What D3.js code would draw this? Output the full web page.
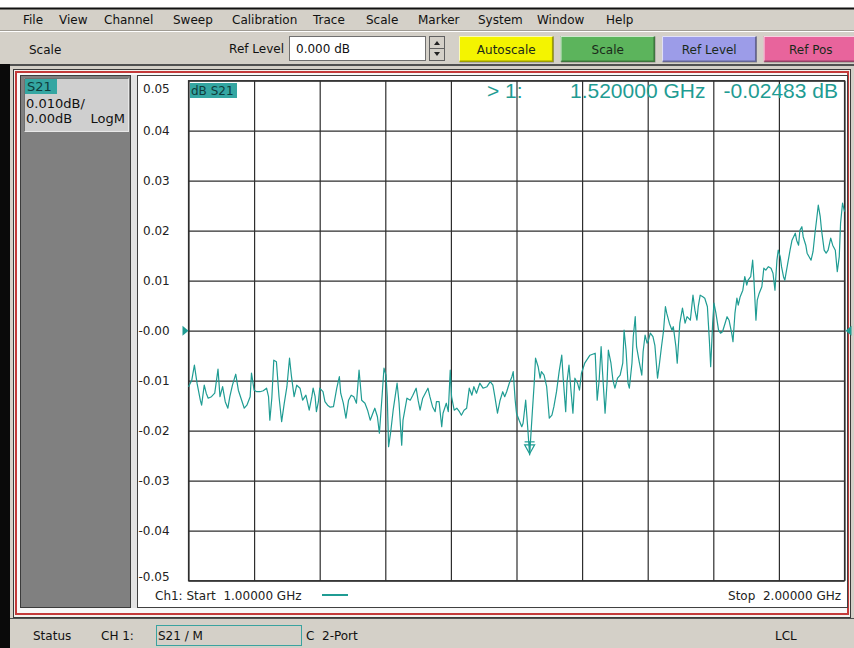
<!DOCTYPE html>
<html>
<head>
<meta charset="utf-8">
<script src="https://cdn.jsdelivr.net/npm/d3@7"></script>
<style>
  body { margin: 0; background: #fff; }
  svg { display: block; font-family: "DejaVu Sans", sans-serif; }
</style>
</head>
<body>
<div id="chart"></div>
<script>
// --- data ---
const menuItems = ["File", "View", "Channel", "Sweep", "Calibration", "Trace", "Scale", "Marker", "System", "Window", "Help"];
const menuX = [23, 59, 104, 173, 232, 313, 366, 418, 478, 537, 606];

const buttons = ["Autoscale", "Scale", "Ref Level", "Ref Pos"];
const buttonColors = ["#f4f400", "#5cb45c", "#9c9ce8", "#e8649c"];

const startGHz = 1.0, stopGHz = 2.0;
const refLevel = 0.0, perDiv = 0.01;
const yTicks = [-0.05, -0.04, -0.03, -0.02, -0.01, 0.00, 0.01, 0.02, 0.03, 0.04, 0.05];

const markerFreq = 1.52;
const markerValue = -0.02483;

// S21 trace [GHz, dB]
const traceS21 = [
  [1.000,-0.0112],[1.005,-0.0099],[1.009,-0.0069],[1.013,-0.0105],[1.018,-0.0139],[1.020,-0.0149],[1.024,-0.0109],[1.027,-0.0125],[1.030,-0.0135],[1.035,-0.0132],
  [1.040,-0.0125],[1.045,-0.0077],[1.048,-0.0132],[1.052,-0.0112],[1.056,-0.0142],[1.060,-0.0155],[1.063,-0.0132],[1.067,-0.0109],[1.072,-0.0087],[1.076,-0.0119],
  [1.080,-0.0135],[1.085,-0.0155],[1.089,-0.0149],[1.094,-0.0132],[1.096,-0.0085],[1.100,-0.0119],[1.104,-0.0122],[1.109,-0.0122],[1.114,-0.0120],[1.119,-0.0115],
  [1.122,-0.0132],[1.124,-0.0179],[1.127,-0.0135],[1.130,-0.0059],[1.134,-0.0062],[1.138,-0.0132],[1.142,-0.0182],[1.146,-0.0145],[1.150,-0.0112],[1.154,-0.0055],
  [1.157,-0.0092],[1.161,-0.0132],[1.165,-0.0109],[1.170,-0.0115],[1.174,-0.0139],[1.179,-0.0129],[1.184,-0.0159],[1.188,-0.0132],[1.190,-0.0115],[1.193,-0.0132],
  [1.195,-0.0162],[1.198,-0.0142],[1.200,-0.0115],[1.205,-0.0122],[1.208,-0.0142],[1.212,-0.0149],[1.216,-0.0153],[1.221,-0.0152],[1.226,-0.0115],[1.230,-0.0092],
  [1.232,-0.0125],[1.236,-0.0145],[1.240,-0.0175],[1.244,-0.0139],[1.248,-0.0129],[1.252,-0.0132],[1.256,-0.0145],[1.260,-0.0079],[1.264,-0.0139],[1.269,-0.0145],
  [1.273,-0.0159],[1.277,-0.0179],[1.281,-0.0165],[1.284,-0.0155],[1.288,-0.0172],[1.291,-0.0205],[1.295,-0.0132],[1.298,-0.0075],[1.301,-0.0089],[1.303,-0.0132],
  [1.305,-0.0232],[1.308,-0.0205],[1.312,-0.0159],[1.315,-0.0132],[1.318,-0.0105],[1.321,-0.0145],[1.325,-0.0229],[1.327,-0.0179],[1.333,-0.0135],[1.338,-0.0139],
  [1.342,-0.0129],[1.347,-0.0115],[1.350,-0.0139],[1.353,-0.0159],[1.357,-0.0135],[1.361,-0.0125],[1.365,-0.0115],[1.368,-0.0132],[1.372,-0.0152],[1.376,-0.0162],
  [1.378,-0.0142],[1.382,-0.0142],[1.386,-0.0192],[1.388,-0.0165],[1.393,-0.0145],[1.396,-0.0162],[1.399,-0.0079],[1.401,-0.0132],[1.405,-0.0159],[1.409,-0.0155],
  [1.413,-0.0162],[1.416,-0.0169],[1.420,-0.0159],[1.424,-0.0155],[1.428,-0.0115],[1.432,-0.0129],[1.435,-0.0112],[1.439,-0.0125],[1.444,-0.0105],[1.449,-0.0115],
  [1.455,-0.0112],[1.460,-0.0102],[1.464,-0.0109],[1.467,-0.0132],[1.471,-0.0165],[1.475,-0.0139],[1.479,-0.0122],[1.482,-0.0132],[1.485,-0.0122],[1.489,-0.0105],
  [1.493,-0.0092],[1.495,-0.0082],[1.498,-0.0139],[1.500,-0.0165],[1.504,-0.0179],[1.508,-0.0192],[1.510,-0.0185],[1.514,-0.0139],[1.517,-0.0192],[1.520,-0.02483],
  [1.524,-0.0165],[1.527,-0.0105],[1.529,-0.0055],[1.533,-0.0072],[1.536,-0.0095],[1.538,-0.0082],[1.542,-0.0089],[1.546,-0.0112],[1.550,-0.0175],[1.554,-0.0169],
  [1.557,-0.0152],[1.561,-0.0122],[1.565,-0.0082],[1.569,-0.0049],[1.571,-0.0092],[1.575,-0.0162],[1.577,-0.0102],[1.580,-0.0069],[1.583,-0.0119],[1.586,-0.0165],
  [1.589,-0.0095],[1.593,-0.0105],[1.596,-0.0119],[1.599,-0.0085],[1.604,-0.0065],[1.612,-0.0049],[1.620,-0.0045],[1.623,-0.0139],[1.626,-0.0099],[1.629,-0.0032],
  [1.631,-0.0079],[1.635,-0.0165],[1.638,-0.0105],[1.640,-0.0039],[1.644,-0.0065],[1.647,-0.0099],[1.650,-0.0115],[1.654,-0.0095],[1.658,-0.0089],[1.662,-0.0065],
  [1.664,0.0001],[1.667,-0.0039],[1.670,-0.0105],[1.672,-0.0115],[1.676,-0.0065],[1.678,-0.0012],[1.681,0.0028],[1.683,-0.0032],[1.687,-0.0062],[1.691,-0.0089],
  [1.693,-0.0042],[1.696,-0.0009],[1.699,-0.0025],[1.701,-0.0020],[1.704,-0.0005],[1.708,-0.0012],[1.711,-0.0030],[1.715,-0.0095],[1.718,-0.0065],[1.721,-0.0032],
  [1.724,-0.0002],[1.727,0.0048],[1.729,0.0035],[1.733,0.0015],[1.737,0.0001],[1.739,0.0008],[1.743,-0.0032],[1.745,-0.0065],[1.749,0.0015],[1.753,0.0045],
  [1.757,0.0015],[1.760,0.0028],[1.765,0.0021],[1.769,0.0071],[1.772,0.0041],[1.775,0.0021],[1.777,0.0048],[1.780,0.0071],[1.784,0.0068],[1.787,0.0065],
  [1.791,0.0048],[1.794,-0.0019],[1.796,-0.0072],[1.799,0.0015],[1.801,0.0055],[1.804,0.0035],[1.808,0.0001],[1.811,-0.0005],[1.814,-0.0002],[1.818,0.0015],
  [1.821,0.0028],[1.824,0.0021],[1.828,-0.0005],[1.830,-0.0022],[1.833,0.0035],[1.836,0.0065],[1.838,0.0051],[1.841,0.0068],[1.845,0.0081],[1.848,0.0108],
  [1.851,0.0091],[1.853,0.0101],[1.857,0.0108],[1.860,0.0141],[1.862,0.0101],[1.865,0.0021],[1.867,0.0061],[1.870,0.0075],[1.874,0.0088],[1.877,0.0125],
  [1.880,0.0121],[1.884,0.0128],[1.888,0.0125],[1.891,0.0115],[1.894,0.0081],[1.897,0.0141],[1.899,0.0161],[1.902,0.0148],[1.904,0.0128],[1.907,0.0108],
  [1.909,0.0101],[1.913,0.0131],[1.917,0.0161],[1.920,0.0181],[1.925,0.0195],[1.927,0.0181],[1.930,0.0171],[1.932,0.0201],[1.935,0.0208],[1.937,0.0188],
  [1.941,0.0171],[1.943,0.0155],[1.946,0.0148],[1.949,0.0141],[1.952,0.0158],[1.955,0.0195],[1.958,0.0228],[1.960,0.0251],[1.963,0.0228],[1.965,0.0201],
  [1.969,0.0161],[1.972,0.0155],[1.975,0.0161],[1.979,0.0185],[1.982,0.0171],[1.986,0.0161],[1.989,0.0118],[1.992,0.0148],[1.994,0.0215],[1.997,0.0255],
  [2.000,0.0238]
];

// --- layout ---
const W = 854, H = 648;
const plot = {left: 188.5, right: 844.5, top: 80.7, bottom: 580.7};
const teal = "#1f9c93";
const winGray = "#d4d0c8";

const svg = d3.select("#chart").append("svg")
  .attr("width", W).attr("height", H);

// window chrome
svg.append("rect").attr("x", 0).attr("y", 0).attr("width", W).attr("height", H).attr("fill", winGray);
svg.append("rect").attr("x", 0).attr("y", 0).attr("width", W).attr("height", 8).attr("fill", "#fff");
svg.append("line").attr("x1", 0).attr("x2", W).attr("y1", 8.5).attr("y2", 8.5).attr("stroke", "#111").attr("stroke-width", 2);

// menu bar
svg.append("g").selectAll("text").data(menuItems).enter().append("text")
  .attr("x", (d, i) => menuX[i]).attr("y", 24)
  .attr("font-size", 12).attr("fill", "#111")
  .text(d => d);
svg.append("line").attr("x1", 0).attr("x2", W).attr("y1", 31.5).attr("y2", 31.5).attr("stroke", "#fff");
svg.append("line").attr("x1", 0).attr("x2", W).attr("y1", 30.5).attr("y2", 30.5).attr("stroke", "#a09c94");

// toolbar
svg.append("text").attr("x", 29).attr("y", 54).attr("font-size", 12).attr("fill", "#111").text("Scale");
svg.append("text").attr("x", 284).attr("y", 53).attr("font-size", 12).attr("fill", "#111")
  .attr("text-anchor", "end").text("Ref Level");
svg.append("rect").attr("x", 289.5).attr("y", 36.5).attr("width", 136).attr("height", 24)
  .attr("fill", "#fff").attr("stroke", "#707070");
svg.append("text").attr("x", 296).attr("y", 53).attr("font-size", 12).attr("fill", "#111").text("0.000 dB");
// spinner
const spin = svg.append("g");
spin.append("rect").attr("x", 429.5).attr("y", 36.5).attr("width", 15).attr("height", 24)
  .attr("fill", winGray).attr("stroke", "#606060");
spin.append("line").attr("x1", 429.5).attr("x2", 444.5).attr("y1", 48.5).attr("y2", 48.5).attr("stroke", "#606060");
spin.append("path").attr("d", "M434,45 L440,45 L437,41 Z").attr("fill", "#222");
spin.append("path").attr("d", "M434,52 L440,52 L437,56 Z").attr("fill", "#222");

const btnX = d3.scaleBand().domain(buttons).range([459, 858]).paddingInner(0.07).paddingOuter(0);
const btn = svg.append("g").selectAll("g").data(buttons).enter().append("g")
  .attr("transform", d => "translate(" + btnX(d) + ",36)");
btn.append("rect").attr("width", btnX.bandwidth()).attr("height", 26)
  .attr("fill", (d, i) => buttonColors[i]);
btn.append("path").attr("d", "M0.5,25.5 L0.5,0.5 L" + (btnX.bandwidth() - 0.5) + ",0.5")
  .attr("fill", "none").attr("stroke", "rgba(255,255,255,0.7)");
btn.append("path").attr("d", "M0.5,25.5 L" + (btnX.bandwidth() - 0.5) + ",25.5 L" + (btnX.bandwidth() - 0.5) + ",0.5")
  .attr("fill", "none").attr("stroke", "rgba(0,0,0,0.35)").attr("stroke-width", 2);
btn.append("text").attr("x", btnX.bandwidth() / 2).attr("y", 18)
  .attr("text-anchor", "middle").attr("font-size", 12).attr("fill", "#1a2a1a")
  .text(d => d);

svg.append("line").attr("x1", 0).attr("x2", W).attr("y1", 65).attr("y2", 65).attr("stroke", "#505050").attr("stroke-width", 2);

// left black strip
svg.append("rect").attr("x", 0).attr("y", 64).attr("width", 10).attr("height", H - 64).attr("fill", "#0a0a0a");

// channel window frame
svg.append("rect").attr("x", 13.5).attr("y", 69.5).attr("width", 837).attr("height", 548)
  .attr("fill", "#f4f2ee").attr("stroke", "#3a3a3a");
svg.append("rect").attr("x", 16).attr("y", 72).attr("width", 832).attr("height", 542)
  .attr("fill", "#f8f8f8").attr("stroke", "#c43a3a").attr("stroke-width", 2);

// left trace panel
svg.append("rect").attr("x", 20.5).attr("y", 75.5).attr("width", 110).attr("height", 532)
  .attr("fill", "#808080").attr("stroke", "#3c3c3c");
svg.append("rect").attr("x", 24.5).attr("y", 78.5).attr("width", 104).attr("height", 53)
  .attr("fill", "#cfcfcf").attr("stroke", "#e8e8e8");
svg.append("path").attr("d", "M24.5,131.5 L24.5,78.5 L128.5,78.5").attr("fill", "none").attr("stroke", "#707070");
svg.append("rect").attr("x", 25).attr("y", 79).attr("width", 32).attr("height", 15).attr("fill", "#34a6a2");
svg.append("text").attr("x", 27).attr("y", 91).attr("font-size", 13).attr("fill", "#0f3c3c").text("S21");
svg.append("text").attr("x", 26).attr("y", 108).attr("font-size", 13).attr("fill", "#111").text("0.010dB/");
svg.append("text").attr("x", 26).attr("y", 123).attr("font-size", 13).attr("fill", "#111").text("0.00dB");
svg.append("text").attr("x", 125).attr("y", 123).attr("font-size", 13).attr("fill", "#111")
  .attr("text-anchor", "end").text("LogM");

// plot panel
svg.append("rect").attr("x", 131).attr("y", 75).attr("width", 6).attr("height", 533).attr("fill", "#e4e4e4");
svg.append("rect").attr("x", 137.5).attr("y", 75.5).attr("width", 710).attr("height", 532)
  .attr("fill", "#fff").attr("stroke", "#404040");

// scales
const x = d3.scaleLinear().domain([startGHz, stopGHz]).range([plot.left, plot.right]);
const y = d3.scaleLinear().domain([refLevel - 5 * perDiv, refLevel + 5 * perDiv]).range([plot.bottom, plot.top]);

// grid
const grid = svg.append("g").attr("class", "grid");
grid.append("g")
  .attr("transform", "translate(0," + plot.bottom + ")")
  .call(d3.axisBottom(x).ticks(10).tickSize(-(plot.bottom - plot.top)).tickFormat(""));
grid.append("g")
  .attr("transform", "translate(" + plot.left + ",0)")
  .call(d3.axisLeft(y).tickValues(yTicks).tickSize(-(plot.right - plot.left)).tickFormat(""));
grid.selectAll(".domain").remove();
grid.selectAll("line").attr("stroke", "#2e2e2e").attr("stroke-width", 1.2);
svg.append("rect").attr("x", plot.left).attr("y", plot.top)
  .attr("width", plot.right - plot.left).attr("height", plot.bottom - plot.top)
  .attr("fill", "none").attr("stroke", "#2e2e2e").attr("stroke-width", 1.2);

// y labels
const fmt = d => (d <= 0 ? "-" : "") + Math.abs(d).toFixed(2);
const yAxis = svg.append("g")
  .attr("transform", "translate(137,0)")
  .call(d3.axisRight(y).tickValues(yTicks).tickSize(0).tickPadding(6).tickFormat(fmt));
yAxis.select(".domain").remove();
yAxis.selectAll("text")
  .attr("font-family", "DejaVu Sans").attr("font-size", 12).attr("fill", "#222")
  .attr("x", d => d <= 0 ? 1.5 : 6)
  .attr("dy", d => d === 0.05 ? "1.0em" : (d === -0.05 ? "0.0em" : "0.32em"));

// dB S21 tag
svg.append("rect").attr("x", 190).attr("y", 83).attr("width", 47).attr("height", 15).attr("fill", "#34a6a2");
svg.append("text").attr("x", 191).attr("y", 95).attr("font-size", 12).attr("fill", "#0f3c3c").text("dB S21");

// trace
const line = d3.line().x(d => x(d[0])).y(d => y(d[1]));
svg.append("path").datum(traceS21)
  .attr("d", line)
  .attr("fill", "none").attr("stroke", teal).attr("stroke-width", 1.2).attr("stroke-linejoin", "round");

// reference position arrows
const ry = y(refLevel);
svg.append("path").attr("d", `M${plot.left - 6},${ry - 5} L${plot.left},${ry} L${plot.left - 6},${ry + 5} Z`).attr("fill", teal);
svg.append("path").attr("d", `M${plot.right + 7},${ry - 5} L${plot.right + 1},${ry} L${plot.right + 7},${ry + 5} Z`).attr("fill", teal);

// marker 1
const mx = x(markerFreq), my = y(markerValue);
const mk = svg.append("g").attr("fill", "none").attr("stroke", teal).attr("stroke-width", 1.2);
mk.append("path").attr("d", `M${mx - 5},${my - 10} L${mx + 5},${my - 10} L${mx},${my - 1} Z`);
mk.append("line").attr("x1", mx - 5).attr("x2", mx + 5).attr("y1", my - 13).attr("y2", my - 13);
mk.append("line").attr("x1", mx).attr("x2", mx).attr("y1", my - 13).attr("y2", my - 4);

// marker readout
const readout = svg.append("g").attr("font-family", "Liberation Sans, Arial, sans-serif")
  .attr("font-size", 21).attr("fill", teal);
readout.append("text").attr("x", 487).attr("y", 98).text("> 1:");
readout.append("text").attr("x", 570).attr("y", 98).text(markerFreq.toFixed(6) + " GHz");
readout.append("text").attr("x", 838).attr("y", 98).attr("text-anchor", "end")
  .text(markerValue.toFixed(5) + " dB");

// start / stop
svg.append("text").attr("x", 155).attr("y", 600).attr("font-size", 12).attr("fill", "#222")
  .attr("xml:space", "preserve").text("Ch1: Start  " + startGHz.toFixed(5) + " GHz");
svg.append("line").attr("x1", 322).attr("x2", 348).attr("y1", 595).attr("y2", 595)
  .attr("stroke", teal).attr("stroke-width", 2);
svg.append("text").attr("x", 841).attr("y", 600).attr("font-size", 12).attr("fill", "#222")
  .attr("text-anchor", "end").attr("xml:space", "preserve")
  .text("Stop  " + stopGHz.toFixed(5) + " GHz");

// status bar
svg.append("line").attr("x1", 10).attr("x2", W).attr("y1", 618.5).attr("y2", 618.5).attr("stroke", "#505050");
svg.append("rect").attr("x", 10).attr("y", 619).attr("width", W - 10).attr("height", H - 619).attr("fill", winGray);
svg.append("text").attr("x", 33).attr("y", 640).attr("font-size", 12).attr("fill", "#111").text("Status");
svg.append("text").attr("x", 101).attr("y", 640).attr("font-size", 12).attr("fill", "#111").text("CH 1:");
svg.append("rect").attr("x", 156.5).attr("y", 625.5).attr("width", 145).attr("height", 20)
  .attr("fill", "none").attr("stroke", "#3aa3a0");
svg.append("text").attr("x", 158).attr("y", 640).attr("font-size", 12).attr("fill", "#111").text("S21 / M");
svg.append("text").attr("x", 306).attr("y", 640).attr("font-size", 12).attr("fill", "#111")
  .attr("xml:space", "preserve").text("C  2-Port");
svg.append("text").attr("x", 775).attr("y", 640).attr("font-size", 12).attr("fill", "#111").text("LCL");
</script>
</body>
</html>
